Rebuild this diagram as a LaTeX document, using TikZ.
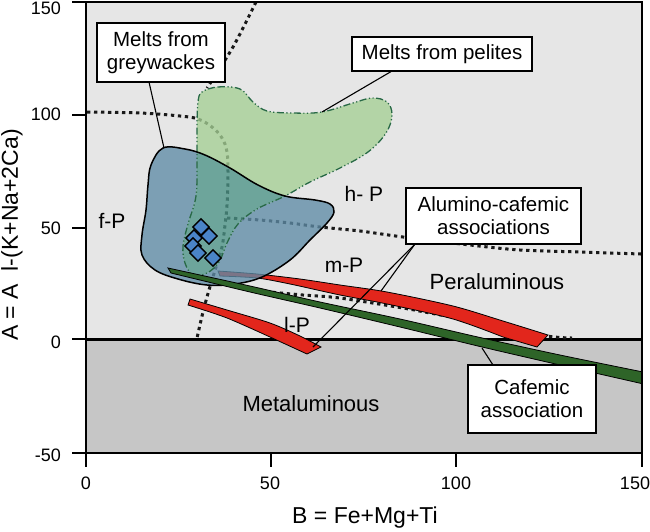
\documentclass[tikz,border=0pt]{standalone}
\usepackage{fontspec}
\setmainfont{Liberation Sans}
\usetikzlibrary{shapes.geometric}
\definecolor{bgup}{RGB}{230,230,230}
\definecolor{bgdn}{RGB}{198,198,198}
\definecolor{bluefld}{RGB}{95,140,166}
\definecolor{greenfld}{RGB}{165,208,149}
\definecolor{tealfld}{RGB}{76,147,134}
\definecolor{redband}{RGB}{226,38,28}
\definecolor{greenband}{RGB}{46,100,40}
\definecolor{greenline}{RGB}{40,105,70}
\definecolor{diamondblue}{RGB}{74,132,200}
\begin{document}
\begin{tikzpicture}[x=1pt,y=-1pt,
  dotline/.style={line width=3pt, dash pattern=on 3.3pt off 3.7pt, black!90},
  bandline/.style={draw=black, line width=0.8pt},
  boxnode/.style={draw=black, fill=white, line width=1.4pt, align=center, inner sep=2pt,
    font=\fontsize{20.5}{23}\selectfont},
  leader/.style={black, line width=1.1pt},
  ticklab/.style={font=\fontsize{18}{20}\selectfont, inner sep=0pt},
  axtitle/.style={font=\fontsize{23}{26}\selectfont, inner sep=0pt},
  reglab/.style={font=\fontsize{22}{24}\selectfont, inner sep=0pt},
  fieldlab/.style={font=\fontsize{21}{23}\selectfont, inner sep=0pt},
  dmd/.style={diamond, draw=black, fill=diamondblue, line width=1.4pt, minimum width=17pt, minimum height=17pt, inner sep=0pt}
]
\useasboundingbox (0,0) rectangle (650,531);
\def\bluepath{plot[smooth cycle, tension=0.6] coordinates {(163,148) (185,149) (205,155) (230,168) (258,185) (285,196) (315,200) (330,204) (334,212) (327,223) (310,240) (290,260) (262,277) (235,284) (207,285) (178,279) (155,270) (142,255) (142,235) (146,210) (148,185) (151,165)}}
\def\greenpath{plot[smooth cycle, tension=0.6] coordinates {(202,92) (218,87) (240,89) (253,102) (267,111) (293,113) (322,112) (353,103) (372,98) (387,102) (392,115) (386,133) (368,152) (340,168) (310,182) (285,196) (257,209) (238,224) (227,243) (219,262) (207,273) (193,275) (185,263) (183,246) (188,224) (196,196) (197,160) (197,125) (198,102)}}
% backgrounds
\fill[bgup] (86,2) rectangle (642,339);
\fill[bgdn] (86,339) rectangle (642,453);
% zero line
\draw[line width=3pt] (86,339) -- (642,339);
% dotted boundaries
\draw[dotline] plot[smooth] coordinates {(256,2) (233,47) (207,88)};
\draw[dotline] plot[smooth, tension=0.6] coordinates {(87,112) (140,113) (180,116) (198,119) (212,127) (222,138) (227,152) (228,175) (227,205) (225,225) (222,247) (216,267) (209,290) (203,312) (197,338)};
\draw[dotline] plot[smooth] coordinates {(227,218) (260,220) (290,223) (320,227) (360,231) (403,237) (470,245) (520,250) (580,252) (641,254)};
\draw[dotline] plot[smooth] coordinates {(245,289) (270,292) (303,295) (340,298) (403,308) (430,313) (490,324) (547,336) (572,338)};
% red bands
\fill[redband, bandline] plot[smooth] coordinates {(218,271) (257,274) (300,279) (340,285) (387,292) (453,306) (503,321) (548,335)} -- (537,347) -- plot[smooth] coordinates {(503,337) (453,319) (387,304) (340,295) (290,284) (257,278) (220,276)} -- cycle;
\fill[redband, bandline] plot[smooth] coordinates {(190,299) (227,310) (270,323) (300,336) (321,347)} -- (307,354) -- plot[smooth] coordinates {(270,337) (227,318) (188,305)} -- cycle;
% fields
\begin{scope}[transparency group, opacity=0.78]
  \fill[bluefld] \bluepath;
  \fill[greenfld] \greenpath;
  \begin{scope}
    \clip \bluepath;
    \fill[tealfld] \greenpath;
  \end{scope}
\end{scope}
\draw[greenline, line width=1.3pt, dash pattern=on 7pt off 2.5pt on 1.2pt off 2.5pt on 1.2pt off 2.5pt] \greenpath;
\draw[black, line width=1.5pt] \bluepath;
% green band
\begin{scope}
  \clip (86,2) rectangle (642,453);
  \fill[greenband, bandline] plot[smooth] coordinates {(168,268) (250,286) (320,302) (400,319) (480,337.5) (560,355) (648,373)} -- plot[smooth] coordinates {(648,385) (560,365) (480,346.5) (400,327) (320,308) (250,292) (171,273)} -- cycle;
\end{scope}
% diamonds
\node[dmd] (d1) at (201,227) {};
\node[dmd] (d2) at (209,236) {};
\node[dmd] (d3) at (194,238) {};
\node[dmd] (d4) at (193,246) {};
\node[dmd] (d5) at (198,253) {};
\node[dmd] (d6) at (213,258) {};
% frame and ticks
\draw[line width=1.6pt] (86,2) rectangle (642,453);
\foreach \yy in {2,115,228,339,453} \draw[line width=2pt] (72,\yy) -- (86,\yy);
\foreach \xx in {86,271,456,642} \draw[line width=2pt] (\xx,453) -- (\xx,467);
\node[ticklab, anchor=east] (y150) at (61,8) {150};
\node[ticklab, anchor=east] (y100) at (61,114) {100};
\node[ticklab, anchor=east] (y50) at (61,228) {50};
\node[ticklab, anchor=east] (y0) at (61,342) {0};
\node[ticklab, anchor=east] (ym50) at (61,455) {-50};
\node[ticklab] (x0) at (86,483) {0};
\node[ticklab] (x50) at (270,483) {50};
\node[ticklab] (x100) at (456,483) {100};
\node[ticklab] (x150) at (635,483) {150};
\node[axtitle, rotate=90] (ytitle) at (12,235) {A = A\ \ l-(K+Na+2Ca)};
\node[axtitle] (xtitle) at (365,518) {B = Fe+Mg+Ti};
% region labels
\node[fieldlab] (fP) at (112,221) {f-P};
\node[fieldlab] (hP) at (364,194) {h- P};
\node[fieldlab] (mP) at (344,265) {m-P};
\node[fieldlab] (lP) at (297,325) {l-P};
\node[reglab] (pera) at (497,282) {Peraluminous};
\node[reglab] (meta) at (311,404) {Metaluminous};
% leader end points
\coordinate (gwA) at (149,82);
\coordinate (gwB) at (164,148);
\coordinate (peA) at (392,71);
\coordinate (peB) at (322,112);
\coordinate (alA) at (415,244);
\coordinate (alB) at (313,347);
\coordinate (alC) at (381,291);
\coordinate (caA) at (493,365);
\coordinate (caB) at (482,348);
\draw[leader] (gwA) -- (gwB);
\draw[leader] (peA) -- (peB);
\draw[leader] (alA) -- (alB);
\draw[leader] (alA) -- (alC);
\draw[leader] (caA) -- (caB);
% boxes
\node[boxnode, minimum width=128pt, minimum height=59pt] (gw) at (161,52.5) {Melts from\\greywackes};
\node[boxnode, minimum width=180pt, minimum height=34pt] (pe) at (442,54) {Melts from pelites};
\node[boxnode, minimum width=175pt, minimum height=56pt] (al) at (493.5,216) {Alumino-cafemic\\associations};
\node[boxnode, minimum width=128pt, minimum height=68pt] (ca) at (532,399) {Cafemic\\association};
\end{tikzpicture}
\end{document}
